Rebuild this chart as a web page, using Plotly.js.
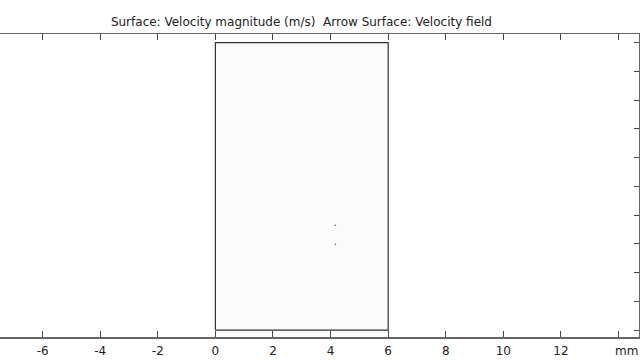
<!DOCTYPE html>
<html>
<head>
<meta charset="utf-8">
<script src="https://cdn.plot.ly/plotly-3.0.1.min.js"></script>
<style>html,body{margin:0;padding:0;background:#fff;}#chart{width:640px;height:360px;}</style>
</head>
<body>
<div id="chart"></div>
<script>
// Domain outline (mm)
const rectX = [0, 6, 6, 0, 0];
const rectY = [0, 0, 10, 10, 0];
// Tiny velocity arrows (mm)
const arrowX = [4.17, 4.17];
const arrowY = [3.65, 2.99];
// Axis ticks
const xTickVals = [-6, -4, -2, 0, 2, 4, 6, 8, 10, 12, 14];
const xTickText = ['-6', '-4', '-2', '0', '2', '4', '6', '8', '10', '12', ''];
const xUnitLabel = 'mm';
const yTickVals = [0, 1, 2, 3, 4, 5, 6, 7, 8, 9, 10];

const traces = [
  {
    x: rectX, y: rectY, type: 'scatter', mode: 'lines',
    fill: 'toself', fillcolor: '#fbfbfb',
    line: {color: '#333333', width: 1.2},
    hoverinfo: 'skip', showlegend: false
  },
  {
    x: arrowX, y: arrowY, type: 'scatter', mode: 'markers',
    marker: {color: '#555555', size: 1.5},
    hoverinfo: 'skip', showlegend: false
  }
];

const layout = {
  width: 640, height: 360,
  margin: {l: 0, r: 1, t: 34, b: 23},
  paper_bgcolor: '#ffffff', plot_bgcolor: '#ffffff',
  title: {
    text: 'Surface: Velocity magnitude (m/s)  Arrow Surface: Velocity field',
    font: {family: 'DejaVu Sans', size: 12, color: '#222222'},
    x: 0.471, xanchor: 'center', y: 0.94, yanchor: 'middle'
  },
  xaxis: {
    range: [-7.48, 14.71],
    tickmode: 'array', tickvals: xTickVals, ticktext: xTickText,
    ticks: 'inside', ticklen: 6, tickwidth: 1, tickcolor: '#444444',
    ticklabelstandoff: 2,
    showline: true, linecolor: '#666666', linewidth: 1.5, mirror: 'ticks',
    showgrid: false, zeroline: false,
    tickfont: {family: 'DejaVu Sans', size: 12, color: '#222222'},
    fixedrange: true
  },
  yaxis: {
    range: [-0.24, 10.3], side: 'right',
    tickmode: 'array', tickvals: yTickVals,
    ticks: 'inside', ticklen: 5, tickwidth: 1, tickcolor: '#444444',
    showticklabels: false,
    showline: true, linecolor: '#666666', linewidth: 1.5, mirror: false,
    showgrid: false, zeroline: false,
    fixedrange: true
  },
  annotations: [{
    text: xUnitLabel, xref: 'paper', yref: 'paper',
    x: 1, y: 0, xanchor: 'right', yanchor: 'top', yshift: -5, xshift: 1,
    showarrow: false,
    font: {family: 'DejaVu Sans', size: 12, color: '#222222'}
  }]
};

Plotly.newPlot('chart', traces, layout, {displayModeBar: false, staticPlot: true});
</script>
</body>
</html>
